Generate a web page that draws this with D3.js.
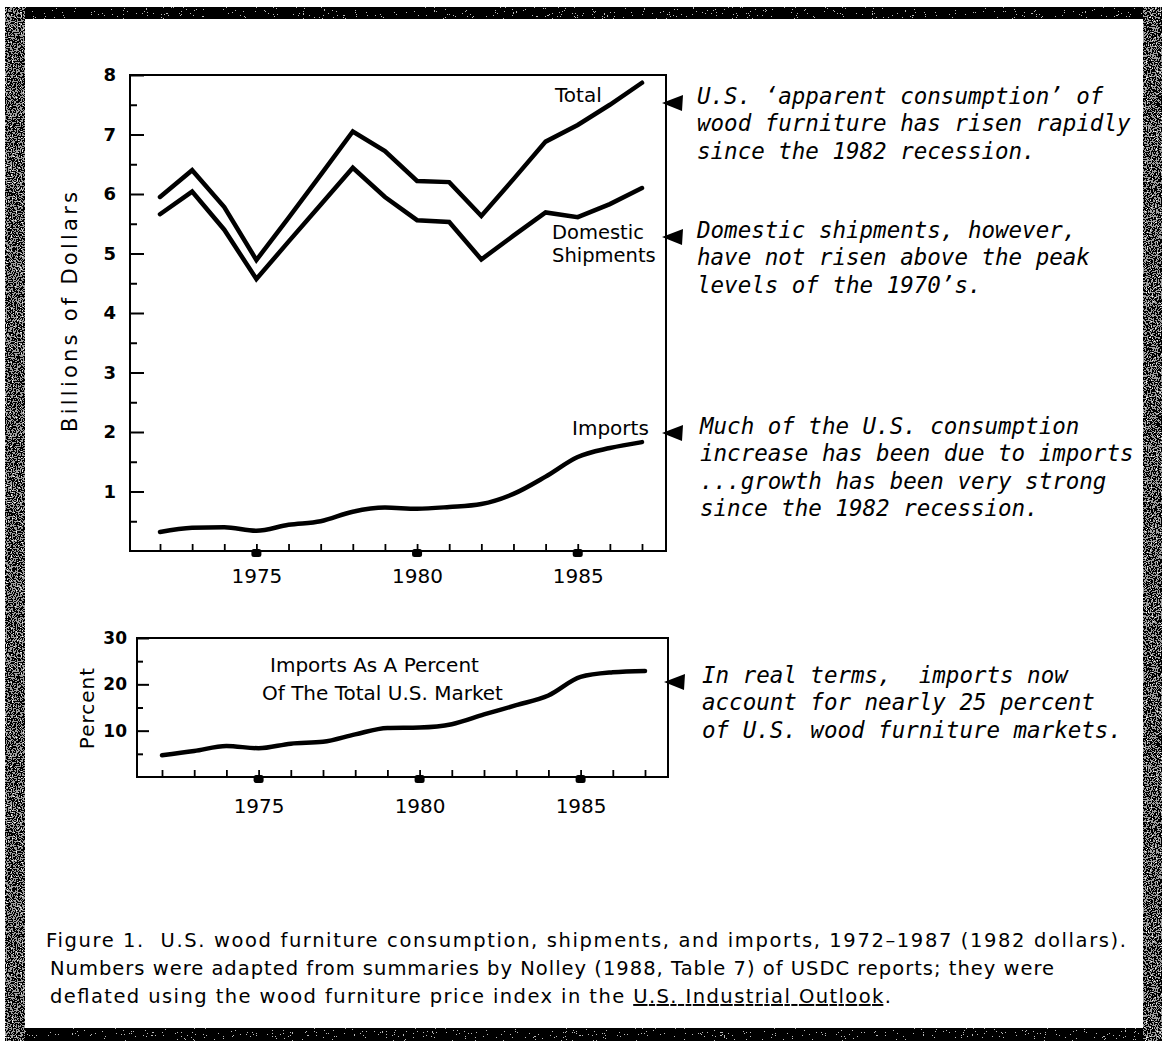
<!DOCTYPE html>
<html>
<head>
<meta charset="utf-8">
<script src="https://cdn.jsdelivr.net/npm/d3@7"></script>
<style>
  body { margin: 0; background: #fff; }
  text { white-space: pre; }
</style>
</head>
<body>
<svg id="chart"></svg>
<script>
// data (billions of 1982 dollars, percent)
const years = [1972, 1973, 1974, 1975, 1976, 1977, 1978, 1979, 1980, 1981, 1982, 1983, 1984, 1985, 1986, 1987];
const totalConsumption = [5.95, 6.40, 5.78, 4.89, 5.60, 6.32, 7.05, 6.72, 6.22, 6.20, 5.63, 6.25, 6.88, 7.16, 7.50, 7.87];
const domesticShipments = [5.66, 6.04, 5.40, 4.57, 5.20, 5.82, 6.44, 5.95, 5.56, 5.53, 4.90, 5.30, 5.69, 5.61, 5.83, 6.10];
const imports = [0.32, 0.39, 0.40, 0.34, 0.44, 0.50, 0.66, 0.73, 0.71, 0.74, 0.79, 0.96, 1.25, 1.58, 1.73, 1.83];
const importShare = [4.7, 5.6, 6.7, 6.2, 7.2, 7.6, 9.2, 10.6, 10.7, 11.4, 13.5, 15.5, 17.6, 21.6, 22.6, 22.9];

const yearLabels = [1975, 1980, 1985];
const dollarTicks = [1, 2, 3, 4, 5, 6, 7, 8];
const dollarMinorTicks = [0.5, 1.5, 2.5, 3.5, 4.5, 5.5, 6.5, 7.5];
const percentTicks = [10, 20, 30];
const percentMinorTicks = [5, 15, 25];

const notes = [
  { y: 103, lines: ["U.S. \u2018apparent consumption\u2019 of", "wood furniture has risen rapidly", "since the 1982 recession."] },
  { y: 237, lines: ["Domestic shipments, however,", "have not risen above the peak", "levels of the 1970\u2019s."] },
  { y: 433, lines: ["Much of the U.S. consumption", "increase has been due to imports", "...growth has been very strong", "since the 1982 recession."] },
  { y: 682, lines: ["In real terms,  imports now", "account for nearly 25 percent", "of U.S. wood furniture markets."] }
];

const sans = 'DejaVu Sans, Verdana, sans-serif';
const mono = 'DejaVu Sans Mono, monospace';

const svg = d3.select('#chart')
  .attr('width', 1162)
  .attr('height', 1041);

// scanned frame texture
const defs = svg.append('defs');
const grain = (id, freq, cut) => {
  const f = defs.append('filter').attr('id', id).attr('x', 0).attr('y', 0).attr('width', 1).attr('height', 1);
  f.append('feTurbulence').attr('type', 'fractalNoise').attr('baseFrequency', freq).attr('numOctaves', 2).attr('seed', 7);
  f.append('feColorMatrix').attr('type', 'saturate').attr('values', 0);
  const ct = f.append('feComponentTransfer');
  ct.append('feFuncR').attr('type', 'discrete').attr('tableValues', cut);
  ct.append('feFuncG').attr('type', 'discrete').attr('tableValues', cut);
  ct.append('feFuncB').attr('type', 'discrete').attr('tableValues', cut);
  ct.append('feFuncA').attr('type', 'table').attr('tableValues', '1 1');
  f.append('feComposite').attr('in2', 'SourceGraphic').attr('operator', 'in');
};
grain('dark', 0.9, '0 0 0 0 0.5 1');
grain('speckle', 0.8, '0 0 0 0.35 0.9 1');

svg.append('rect').attr('x', 5).attr('y', 7).attr('width', 1157).attr('height', 12).attr('fill', '#000').attr('filter', 'url(#dark)');
svg.append('rect').attr('x', 5).attr('y', 1028).attr('width', 1157).attr('height', 13).attr('fill', '#000').attr('filter', 'url(#dark)');
svg.append('rect').attr('x', 5).attr('y', 7).attr('width', 20).attr('height', 1034).attr('fill', '#000').attr('filter', 'url(#speckle)');
svg.append('rect').attr('x', 1143).attr('y', 7).attr('width', 19).attr('height', 1034).attr('fill', '#000').attr('filter', 'url(#speckle)');

// draws box, ticks and labels of one panel
const drawFrame = (box, x, y, major, minor, majorLen, minorLen, yPad, xPad, yFont) => {
  const g = svg.append('g');

  g.append('rect')
    .attr('x', box.left).attr('y', box.top)
    .attr('width', box.right - box.left).attr('height', box.bottom - box.top)
    .attr('fill', 'none').attr('stroke', '#000').attr('stroke-width', 2);

  const leftMajor = g.append('g').attr('transform', `translate(${box.left},0)`)
    .call(d3.axisLeft(y).tickValues(major).tickSize(-majorLen).tickPadding(yPad));
  const leftMinor = g.append('g').attr('transform', `translate(${box.left},0)`)
    .call(d3.axisLeft(y).tickValues(minor).tickSize(-minorLen).tickFormat(''));
  [leftMajor, leftMinor].forEach(a => {
    a.select('.domain').remove();
    a.selectAll('line').attr('stroke-width', 2);
  });
  leftMajor.selectAll('text')
    .attr('font-family', sans).attr('font-size', yFont).attr('font-weight', 'bold').attr('fill', '#000');

  const yearTicks = g.append('g').attr('transform', `translate(0,${box.bottom})`)
    .call(d3.axisBottom(x).tickValues(years).tickSize(-7).tickFormat(''));
  yearTicks.select('.domain').remove();
  yearTicks.selectAll('line').attr('stroke-width', 1.8);

  const yearText = g.append('g').attr('transform', `translate(0,${box.bottom})`)
    .call(d3.axisBottom(x).tickValues(yearLabels).tickSize(0).tickPadding(xPad).tickFormat(d3.format('d')));
  yearText.select('.domain').remove();
  yearText.selectAll('text')
    .attr('font-family', sans).attr('font-size', 20).attr('fill', '#000');

  // heavy year markers under the axis
  g.selectAll('.marker')
    .data(yearLabels)
    .enter().append('rect')
    .attr('x', d => x(d) - 5).attr('y', box.bottom - 2)
    .attr('width', 10).attr('height', 8).attr('rx', 2.5)
    .attr('fill', '#000');

  return g;
};

const drawSeries = (g, x, y, values, curve) => {
  g.append('path')
    .datum(values)
    .attr('fill', 'none')
    .attr('stroke', '#000')
    .attr('stroke-width', 4.5)
    .attr('stroke-linecap', 'round')
    .attr('d', d3.line().x((d, i) => x(years[i])).y(d => y(d)).curve(curve));
};

const arrow = (tipX, cy) => {
  svg.append('path')
    .attr('d', `M${tipX},${cy} L${tipX + 21},${cy - 8} L${tipX + 20},${cy + 8} Z`)
    .attr('fill', '#000');
};

const label = (x, y, t, size) => svg.append('text')
  .attr('x', x).attr('y', y)
  .attr('font-family', sans).attr('font-size', size || 20).attr('fill', '#000')
  .text(t);

// ---- top panel: billions of dollars
const topBox = { left: 130, right: 666, top: 75, bottom: 551 };
const xTop = d3.scaleLinear().domain([1972, 1987]).range([160, 642]);
const yTop = d3.scaleLinear().domain([0, 8]).range([topBox.bottom, topBox.top]);
const topPanel = drawFrame(topBox, xTop, yTop, dollarTicks, dollarMinorTicks, 14, 7, 14, 18, 18);

drawSeries(topPanel, xTop, yTop, totalConsumption, d3.curveLinear);
drawSeries(topPanel, xTop, yTop, domesticShipments, d3.curveLinear);
drawSeries(topPanel, xTop, yTop, imports, d3.curveMonotoneX);

label(555, 102, 'Total');
label(552, 239, 'Domestic', 19.5);
label(552, 262, 'Shipments', 19.5);
label(572, 435, 'Imports');

svg.append('text')
  .attr('transform', 'translate(77,312) rotate(-90)')
  .attr('text-anchor', 'middle')
  .attr('font-family', sans).attr('font-size', 21)
  .attr('textLength', 240).attr('lengthAdjust', 'spacing')
  .text('Billions of Dollars');

// ---- bottom panel: percent of market
const botBox = { left: 137, right: 668, top: 638, bottom: 777 };
const xBot = d3.scaleLinear().domain([1972, 1987]).range([162, 645]);
const yBot = d3.scaleLinear().domain([0, 30]).range([botBox.bottom, botBox.top]);
const botPanel = drawFrame(botBox, xBot, yBot, percentTicks, percentMinorTicks, 12, 6, 10, 22, 17);

drawSeries(botPanel, xBot, yBot, importShare, d3.curveMonotoneX);

label(270, 672, 'Imports As A Percent');
label(262, 700, 'Of The Total U.S. Market');

svg.append('text')
  .attr('transform', 'translate(94,708) rotate(-90)')
  .attr('text-anchor', 'middle')
  .attr('font-family', sans).attr('font-size', 20).attr('letter-spacing', 1)
  .text('Percent');

// ---- annotations with arrows
notes.forEach((n, k) => {
  arrow(k === 3 ? 664 : 662, n.y);
  const t = svg.append('text')
    .attr('font-family', mono).attr('font-style', 'italic').attr('font-size', 22.5).attr('fill', '#000');
  n.lines.forEach((line, i) => {
    t.append('tspan')
      .attr('x', k < 2 ? 697 : (k === 2 ? 700 : 702))
      .attr('y', n.y + 1 + i * 27.3)
      .text(line);
  });
});

// ---- caption
const caption = svg.append('g')
  .attr('font-family', sans).attr('font-size', 19.5).attr('fill', '#000');
caption.append('text').attr('x', 46).attr('y', 947).attr('textLength', 1080).attr('lengthAdjust', 'spacing')
  .text('Figure 1.  U.S. wood furniture consumption, shipments, and imports, 1972\u20131987 (1982 dollars).');
caption.append('text').attr('x', 50).attr('y', 975).attr('textLength', 1004).attr('lengthAdjust', 'spacing')
  .text('Numbers were adapted from summaries by Nolley (1988, Table 7) of USDC reports; they were');
const last = caption.append('text').attr('x', 50).attr('y', 1003).attr('textLength', 841).attr('lengthAdjust', 'spacing');
last.append('tspan').text('deflated using the wood furniture price index in the ');
last.append('tspan').attr('text-decoration', 'underline').text('U.S. Industrial Outlook');
last.append('tspan').text('.');
</script>
</body>
</html>
